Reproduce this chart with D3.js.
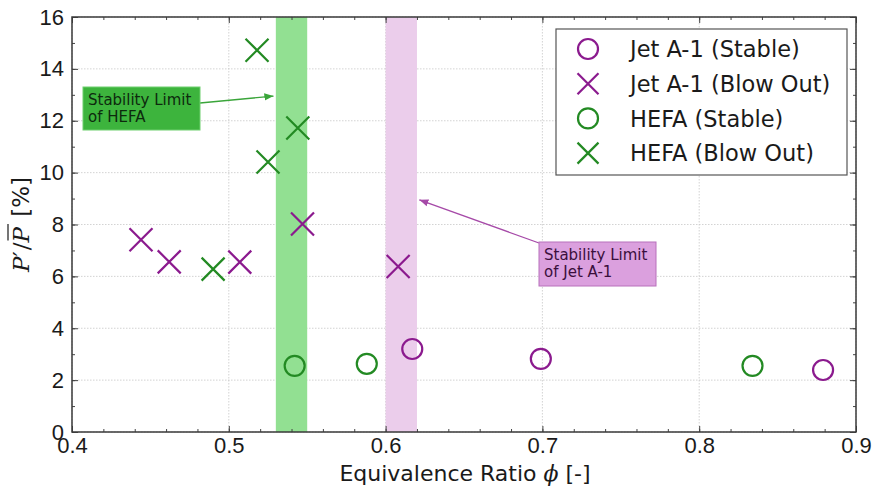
<!DOCTYPE html>
<html>
<head>
<meta charset="utf-8">
<script src="https://cdn.jsdelivr.net/npm/d3@7"></script>
<style>
  html, body { margin: 0; padding: 0; background: #fff; }
  svg { display: block; font-family: "DejaVu Sans", sans-serif; }
</style>
</head>
<body>
<svg id="chart" width="879" height="489"></svg>
<script>
// Equivalence ratio (phi) and pressure fluctuation P'/P̄ [%] per fuel and state
const jetStablePhi = [0.617, 0.699, 0.879];
const jetStableP   = [3.2, 2.82, 2.39];
const jetBlowPhi   = [0.444, 0.462, 0.507, 0.547, 0.608];
const jetBlowP     = [7.41, 6.56, 6.55, 8.02, 6.38];
const hefaStablePhi = [0.542, 0.588, 0.834];
const hefaStableP   = [2.55, 2.63, 2.55];
const hefaBlowPhi   = [0.490, 0.518, 0.525, 0.544];
const hefaBlowP     = [6.28, 14.72, 10.41, 11.72];

// Stability-limit bands [phi start, phi end]
const hefaLimit = [0.53, 0.55];
const jetLimit  = [0.60, 0.62];

const xTicks = [0.4, 0.5, 0.6, 0.7, 0.8, 0.9];
const yTicks = [0, 2, 4, 6, 8, 10, 12, 14, 16];

const legendLabels = ["Jet A-1 (Stable)", "Jet A-1 (Blow Out)", "HEFA (Stable)", "HEFA (Blow Out)"];

const PURPLE = "#8b1a8e";
const GREEN = "#238a23";

const svg = d3.select("#chart");
const m = { left: 72, right: 856, top: 17, bottom: 432 };
const x = d3.scaleLinear().domain([0.4, 0.9]).range([m.left, m.right]);
const y = d3.scaleLinear().domain([0, 16]).range([m.bottom, m.top]);

// Grid lines
const grid = svg.append("g");
grid.selectAll(".gx").data(xTicks).join("line")
  .attr("x1", d => x(d)).attr("x2", d => x(d))
  .attr("y1", m.top).attr("y2", m.bottom)
  .attr("stroke", "#c8c8c8").attr("stroke-width", 0.8).attr("stroke-dasharray", "1.5,1.5");
grid.selectAll(".gy").data(yTicks).join("line")
  .attr("x1", m.left).attr("x2", m.right)
  .attr("y1", d => y(d)).attr("y2", d => y(d))
  .attr("stroke", "#c8c8c8").attr("stroke-width", 0.8).attr("stroke-dasharray", "1.5,1.5");

// Stability-limit bands
svg.append("rect")
  .attr("x", x(hefaLimit[0])).attr("width", x(hefaLimit[1]) - x(hefaLimit[0]))
  .attr("y", m.top).attr("height", m.bottom - m.top)
  .attr("fill", "#92e092");
svg.append("rect")
  .attr("x", x(jetLimit[0])).attr("width", x(jetLimit[1]) - x(jetLimit[0]))
  .attr("y", m.top).attr("height", m.bottom - m.top)
  .attr("fill", "#ebcdeb");

// Axes (inward ticks on all four sides)
const xMinor = d3.range(0.4, 0.9001, 0.02);
const yMinor = d3.range(0, 16.001, 1);
function addAxis(axisFn, scale, ticks, minor, transform, showLabels, fmt, pad) {
  const g = svg.append("g").attr("transform", transform);
  g.call(axisFn(scale).tickValues(minor).tickSize(-3).tickFormat(""));
  const g2 = svg.append("g").attr("transform", transform);
  g2.call(axisFn(scale).tickValues(ticks).tickSize(-6).tickPadding(pad)
    .tickFormat(showLabels ? fmt : ""));
  [g, g2].forEach(gg => {
    gg.select(".domain").remove();
    gg.selectAll("line").attr("stroke", "#444").attr("stroke-width", 1);
  });
  g2.selectAll("text").attr("fill", "#1a1a1a").style("font-size", "22px");
  return g2;
}
const fx = d3.format(".1f");
const fy = d3.format("d");
addAxis(d3.axisBottom, x, xTicks, xMinor, `translate(0,${m.bottom})`, true, fx, 5);
addAxis(d3.axisTop, x, xTicks, xMinor, `translate(0,${m.top})`, false, fx, 5);
addAxis(d3.axisLeft, y, yTicks, yMinor, `translate(${m.left},0)`, true, fy, 8);
addAxis(d3.axisRight, y, yTicks, yMinor, `translate(${m.right},0)`, false, fy, 8);

// Plot frame
svg.append("rect")
  .attr("x", m.left).attr("y", m.top)
  .attr("width", m.right - m.left).attr("height", m.bottom - m.top)
  .attr("fill", "none").attr("stroke", "#3a3a3a").attr("stroke-width", 1.5);

// Annotation box with an arrow pointing at a band
function annotate(box, lines, fill, stroke, textColor, arrowFrom, arrowTo, color) {
  const id = "ah" + color.replace("#", "");
  svg.append("defs").append("marker")
    .attr("id", id).attr("viewBox", "0 0 10 10").attr("refX", 10).attr("refY", 5)
    .attr("markerWidth", 7).attr("markerHeight", 7).attr("orient", "auto")
    .append("path").attr("d", "M0,1 L10,5 L0,9 Z").attr("fill", color);
  svg.append("line")
    .attr("x1", arrowFrom[0]).attr("y1", arrowFrom[1])
    .attr("x2", arrowTo[0]).attr("y2", arrowTo[1])
    .attr("stroke", color).attr("stroke-width", 1.3)
    .attr("marker-end", `url(#${id})`);
  svg.append("rect")
    .attr("x", box[0]).attr("y", box[1]).attr("width", box[2]).attr("height", box[3])
    .attr("fill", fill).attr("stroke", stroke).attr("stroke-width", 1);
  const t = svg.append("text").attr("fill", textColor).style("font-size", "15px");
  lines.forEach((s, i) => {
    t.append("tspan").attr("x", box[0] + 5).attr("y", box[1] + 18 + i * 17).text(s);
  });
}
annotate([83, 87, 117, 43], ["Stability Limit", "of HEFA"], "#3db43d", "#6fcf6f", "#0d2a0d",
  [200, 103], [x(0.5285), y(12.95)], "#3aa53a");
annotate([539, 242, 117, 44], ["Stability Limit", "of Jet A-1"], "#dba0de", "#b870bb", "#3a0f3c",
  [539, 243], [x(0.6215), y(8.95)], "#a64aa8");

// Marker drawing
const R = 10, H = 11.5;
function circles(phi, p, color) {
  svg.append("g").selectAll("circle").data(phi.map((v, i) => [v, p[i]])).join("circle")
    .attr("cx", d => x(d[0])).attr("cy", d => y(d[1])).attr("r", R)
    .attr("fill", "none").attr("stroke", color).attr("stroke-width", 2.2);
}
function crosses(phi, p, color) {
  svg.append("g").selectAll("path").data(phi.map((v, i) => [v, p[i]])).join("path")
    .attr("d", d => {
      const cx = x(d[0]), cy = y(d[1]);
      return `M${cx - H},${cy - H}L${cx + H},${cy + H}M${cx - H},${cy + H}L${cx + H},${cy - H}`;
    })
    .attr("fill", "none").attr("stroke", color).attr("stroke-width", 2.2);
}
circles(jetStablePhi, jetStableP, PURPLE);
crosses(jetBlowPhi, jetBlowP, PURPLE);
circles(hefaStablePhi, hefaStableP, GREEN);
crosses(hefaBlowPhi, hefaBlowP, GREEN);

// Legend
const lg = svg.append("g");
lg.append("rect").attr("x", 556).attr("y", 29).attr("width", 291).attr("height", 146)
  .attr("fill", "#fff").attr("stroke", "#555").attr("stroke-width", 1.2);
const legendStyle = [["o", PURPLE], ["x", PURPLE], ["o", GREEN], ["x", GREEN]];
legendLabels.forEach((lab, i) => {
  const cy = 49 + i * 34.7, cx = 588;
  const [shape, col] = legendStyle[i];
  if (shape === "o") {
    lg.append("circle").attr("cx", cx).attr("cy", cy).attr("r", R)
      .attr("fill", "none").attr("stroke", col).attr("stroke-width", 2.2);
  } else {
    lg.append("path")
      .attr("d", `M${cx - H + 1},${cy - H + 1}L${cx + H - 1},${cy + H - 1}M${cx - H + 1},${cy + H - 1}L${cx + H - 1},${cy - H + 1}`)
      .attr("stroke", col).attr("stroke-width", 2.2);
  }
  lg.append("text").attr("x", 630).attr("y", cy).attr("dy", "0.36em")
    .attr("fill", "#1a1a1a").style("font-size", "22.5px").text(lab);
});

// X axis title
const xt = svg.append("text").attr("x", 465).attr("y", 481)
  .attr("text-anchor", "middle").attr("fill", "#1a1a1a").style("font-size", "22px");
xt.append("tspan").text("Equivalence Ratio ");
xt.append("tspan").style("font-family", "'DejaVu Serif', serif").style("font-style", "italic").text("ϕ");
xt.append("tspan").text(" [-]");

// Y axis title: P′/P̄ [%]
const yg = svg.append("g").attr("transform", `translate(29,${(m.top + m.bottom) / 2}) rotate(-90)`);
const parts = [
  { s: "P", it: true, over: false },
  { s: "′", it: false, over: false },
  { s: "/", it: false, over: false },
  { s: "P", it: true, over: true },
  { s: " [%]", it: false, over: false }
];
let cur = 0;
const nodes = parts.map(p => {
  const t = yg.append("text").attr("y", 0).attr("fill", "#1a1a1a")
    .style("font-size", "23px")
    .style("font-family", p.it || p.s === "′" || p.s === "/" ? "'DejaVu Serif', serif" : "'DejaVu Sans', sans-serif")
    .style("font-style", p.it ? "italic" : "normal")
    .style("white-space", "pre")
    .text(p.s);
  const w = t.node().getComputedTextLength();
  t.attr("x", cur);
  const rec = { t, x0: cur, w, p };
  cur += w + (p.s === "′" ? 1 : 0) + (p.over ? 3 : 0);
  return rec;
});
const shift = -cur / 2;
nodes.forEach(n => {
  n.t.attr("x", n.x0 + shift);
  if (n.p.over) {
    yg.append("line").attr("x1", n.x0 + shift + 2).attr("x2", n.x0 + shift + n.w + 3)
      .attr("y1", -21).attr("y2", -21).attr("stroke", "#1a1a1a").attr("stroke-width", 1.2);
  }
});
</script>
</body>
</html>
